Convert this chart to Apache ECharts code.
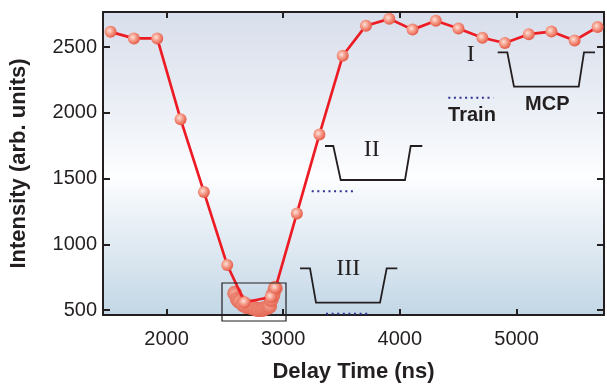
<!DOCTYPE html>
<html>
<head>
<meta charset="utf-8">
<script src="https://cdn.jsdelivr.net/npm/echarts@6/dist/echarts.min.js"></script>
<style>html,body{margin:0;padding:0;background:#fff;}#c{width:607px;height:388px;}</style>
</head>
<body>
<div id="c"></div>
<script>
// Main scan (delay time ns, intensity)
const delayTimes = [1520, 1720, 1920, 2120, 2320, 2520, 2670, 2895, 2934, 3117, 3310, 3510, 3709, 3909, 4109, 4308, 4502, 4707, 4900, 5105, 5299, 5498, 5695];
const intensities = [2617, 2567, 2567, 1953, 1399, 843, 560, 600, 669, 1236, 1836, 2435, 2664, 2716, 2634, 2701, 2642, 2572, 2532, 2599, 2619, 2552, 2654];
// Fine scan near the minimum
const fineTimes = [2584, 2607, 2624, 2656, 2684, 2712, 2731, 2755, 2778, 2797, 2821, 2840, 2863, 2883, 2897, 2912, 2932];
const fineIntensities = [629, 582, 567, 542, 528, 525, 520, 513, 505, 505, 505, 513, 520, 530, 580, 617, 666];
const xTicks = [2000, 3000, 4000, 5000];
const yTicks = [500, 1000, 1500, 2000, 2500];

const chart = echarts.init(document.getElementById('c'));
const mainData = delayTimes.map((t, i) => [t, intensities[i]]);
const fineData = fineTimes.map((t, i) => [t, fineIntensities[i]]);

const markerColor = {
  type: 'radial', x: 0.4, y: 0.4, r: 0.65,
  colorStops: [{offset: 0, color: '#fde2d8'}, {offset: 0.45, color: '#f59c8a'}, {offset: 1, color: '#e3533f'}]
};
const fineColor = {
  type: 'radial', x: 0.45, y: 0.45, r: 0.6,
  colorStops: [{offset: 0, color: '#f6ad9c'}, {offset: 1, color: '#e25c49'}]
};
const dark = '#231f20';
const navy = '#2e3192';
const xMin = 1455, xMax = 5750, yMin = 463, yMax = 2768;
const fmt = v => String(v);

const baseX = {
  type: 'value', min: xMin, max: xMax,
  splitLine: {show: false},
  axisLine: {show: true, lineStyle: {color: dark, width: 2}},
  axisTick: {show: true, inside: true, length: 6, lineStyle: {color: dark, width: 2}, customValues: xTicks},
};
const baseY = {
  type: 'value', min: yMin, max: yMax,
  splitLine: {show: false},
  axisLine: {show: true, lineStyle: {color: dark, width: 2}},
  axisTick: {show: true, inside: true, length: 7, lineStyle: {color: dark, width: 2}, customValues: yTicks},
};

function pulse(pts) {
  return {type: 'polyline', shape: {points: pts}, style: {stroke: dark, lineWidth: 1.8, fill: null}, z: 10};
}
function dots(x1, x2, y) {
  return {type: 'line', shape: {x1: x1, y1: y, x2: x2, y2: y}, style: {stroke: navy, lineWidth: 2, lineDash: [2, 3.6]}, z: 10};
}
function txt(x, y, s, font) {
  return {type: 'text', x: x, y: y, style: {text: s, font: font, fill: dark, align: 'center', verticalAlign: 'middle'}, z: 10};
}
const serif = '24px "Liberation Serif", "DejaVu Serif", serif';
const boldSans = 'bold 20px "Liberation Sans", Arial, sans-serif';

chart.setOption({
  animation: false,
  grid: {
    left: 101, right: 3, top: 12, bottom: 67, show: true,
    borderWidth: 0,
    backgroundColor: {
      type: 'linear', x: 0, y: 0, x2: 0, y2: 1,
      colorStops: [
        {offset: 0, color: '#d8deeb'},
        {offset: 0.3, color: '#eaeef5'},
        {offset: 0.55, color: '#fdfeff'},
        {offset: 0.62, color: '#f2f6fa'},
        {offset: 1, color: '#c3d7e6'}
      ]
    }
  },
  xAxis: [
    Object.assign({}, baseX, {
      position: 'bottom',
      name: 'Delay Time (ns)', nameLocation: 'middle', nameGap: 46,
      nameTextStyle: {fontFamily: '"Liberation Sans", Arial, sans-serif', fontWeight: 'bold', fontSize: 22, color: dark},
      axisLabel: {show: true, customValues: xTicks, formatter: fmt, margin: 14, fontFamily: '"Liberation Sans", Arial, sans-serif', fontSize: 20, color: dark}
    }),
    Object.assign({}, baseX, {position: 'top', axisLabel: {show: false}})
  ],
  yAxis: [
    Object.assign({}, baseY, {
      position: 'left',
      name: 'Intensity (arb. units)', nameLocation: 'middle', nameGap: 73,
      nameTextStyle: {fontFamily: '"Liberation Sans", Arial, sans-serif', fontWeight: 'bold', fontSize: 22, color: dark},
      axisLabel: {show: true, customValues: yTicks, formatter: fmt, margin: 6, fontFamily: '"Liberation Sans", Arial, sans-serif', fontSize: 20, color: dark}
    }),
    Object.assign({}, baseY, {position: 'right', axisLabel: {show: false}})
  ],
  series: [
    {
      type: 'scatter', data: fineData, symbol: 'circle', symbolSize: 15,
      itemStyle: {color: fineColor, opacity: 0.95}, z: 2
    },
    {
      type: 'line', data: mainData, symbol: 'circle', symbolSize: 12, showSymbol: true,
      lineStyle: {color: '#ed1c24', width: 2.7},
      itemStyle: {color: markerColor, borderWidth: 0}, z: 3
    }
  ],
  graphic: [
    {type: 'rect', shape: {x: 222, y: 283, width: 64, height: 38}, style: {stroke: dark, lineWidth: 1.2, fill: null}, z: 10},
    // I / MCP
    pulse([[497.7, 52.3], [507.3, 52.3], [514, 86.7], [578.7, 86.7], [584, 52.3], [595, 52.3]]),
    txt(470.7, 55, 'I', serif),
    txt(547.3, 104, 'MCP', boldSans),
    dots(448.3, 493.3, 97.7),
    txt(472, 115, 'Train', boldSans),
    // II
    pulse([[325, 146], [333.3, 146], [340.7, 180], [405, 180], [410.7, 146], [422.3, 146]]),
    txt(371.7, 150, 'II', serif),
    dots(311.7, 356, 191.3),
    // III
    pulse([[300, 268.3], [310, 268.3], [316, 302.7], [380, 302.7], [386.7, 268.3], [397.3, 268.3]]),
    txt(348.3, 268.3, 'III', serif),
    dots(326, 369.3, 313.7)
  ]
});
</script>
</body>
</html>
